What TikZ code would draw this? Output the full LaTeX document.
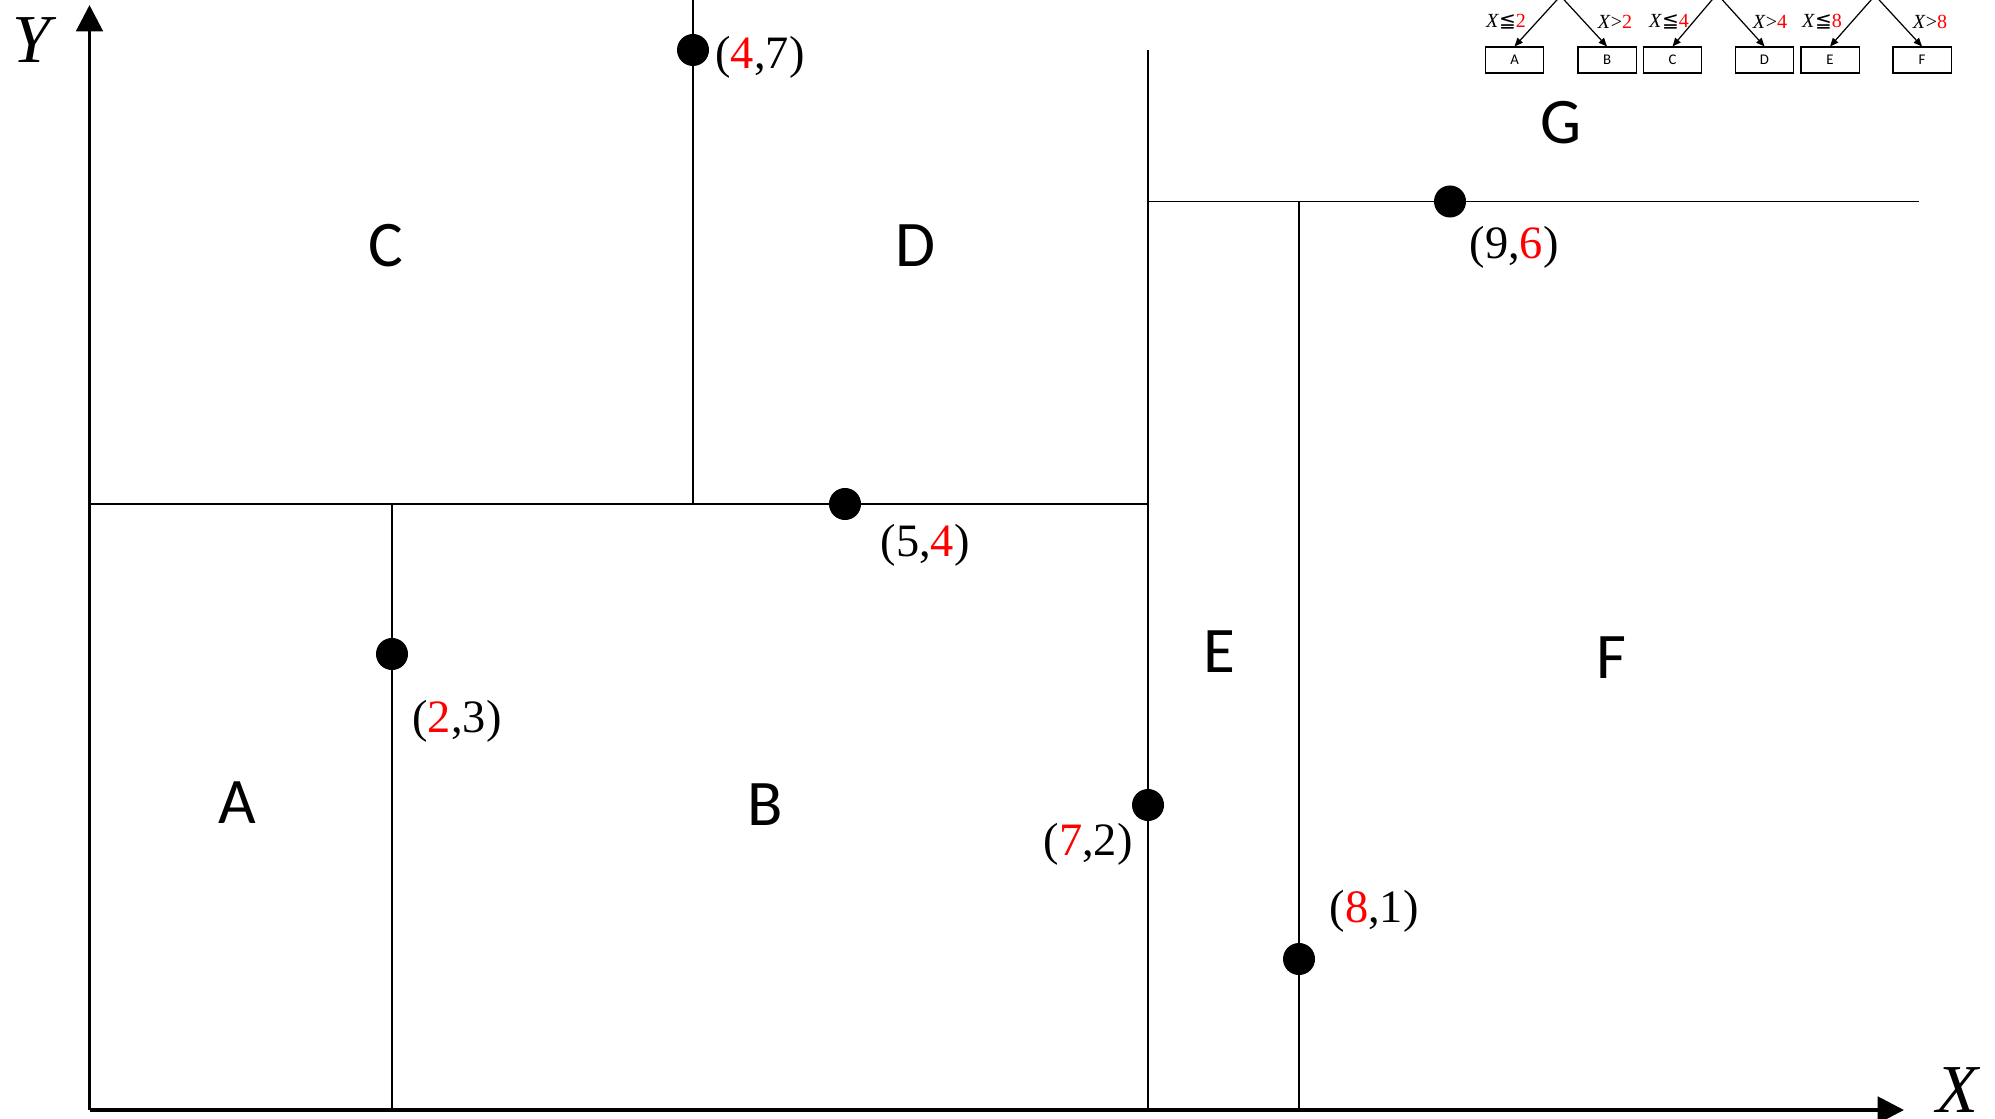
\documentclass[tikz,border=0pt]{standalone}
\usepackage{fontspec}
\setmainfont{Liberation Serif}
\newfontfamily\regionfont{Carlito}
\newfontfamily\symfont{DejaVu Sans}
\usetikzlibrary{arrows.meta,calc}
\definecolor{cutred}{RGB}{255,0,0}
\newcommand{\cutval}[1]{\textcolor{cutred}{#1}}

\begin{document}
\begin{tikzpicture}[x=0.01cm, y=-0.01cm,
  axis/.style={line width=1.1pt, -{Triangle[length=7.5pt,width=7.5pt]}},
  split/.style={line width=0.55pt},
  pt/.style={circle, fill=black, inner sep=0pt, minimum size=0.32cm},
  ptlabel/.style={font=\fontsize{13.2}{15}\selectfont, inner sep=0pt},
  region/.style={font=\regionfont\fontsize{18.5}{20}\selectfont, inner sep=0pt},
  axislabel/.style={font=\fontsize{19.5}{21}\selectfont\itshape, inner sep=0pt},
  leaf/.style={draw, line width=0.3pt, minimum width=0.58cm, minimum height=0.26cm, inner sep=0pt, font=\regionfont\fontsize{4.2}{5}\selectfont},
  branch/.style={line width=0.35pt, -{Triangle[length=2.4pt,width=2pt]}},
  rule/.style={font=\fontsize{5.7}{6}\selectfont, inner sep=0pt}]
  \useasboundingbox (0,0) rectangle (1995,1119);

  % axes
  \coordinate (O) at (89.5,1110);
  \draw[axis] (O) -- (89.5,5);
  \draw[axis] (O) -- (1904,1110);
  \node[axislabel] (ylab) at (32,40) {Y};
  \node[axislabel] (xlab) at (1957,1090) {X};

  % split points
  \node[pt] (p23) at (392,654) {};
  \node[pt] (p47) at (693,50) {};
  \node[pt] (p54) at (845,504) {};
  \node[pt] (p72) at (1148,805) {};
  \node[pt] (p81) at (1299,959) {};
  \node[pt] (p96) at (1450,201.5) {};

  % splitting lines
  \draw[split] (O |- p54) -- (p72 |- p54);
  \draw[split] (p23 |- O) -- (p23 |- p54);
  \draw[split] (p47 |- p54) -- ($(p47.center)+(0,-50)$);
  \draw[split] (p72 |- O) -- ($(p72 |- O)+(0,-1060)$);
  \draw[split] (p72 |- p96) -- ($(p96.center)+(469,0)$);
  \draw[split] (p81 |- O) -- (p81 |- p96);

  \node[ptlabel] (l23) at (457,721) {(\cutval{2},3)};
  \node[ptlabel] (l47) at (760,57) {(\cutval{4},7)};
  \node[ptlabel] (l54) at (925,545) {(5,\cutval{4})};
  \node[ptlabel] (l72) at (1088,844) {(\cutval{7},2)};
  \node[ptlabel] (l81) at (1374,911) {(\cutval{8},1)};
  \node[ptlabel] (l96) at (1514,247) {(9,\cutval{6})};

  % regions
  \node[region] (regA) at (237,803) {A};
  \node[region] (regB) at (765,805) {B};
  \node[region] (regC) at (386,246) {C};
  \node[region] (regD) at (915,246) {D};
  \node[region] (regE) at (1219,652) {E};
  \node[region] (regF) at (1611,658) {F};
  \node[region] (regG) at (1561,123) {G};

  % tree fragment
  \coordinate (par1) at (1560.5,-4);
  \coordinate (par2) at (1717,-6);
  \coordinate (par3) at (1875,-4.5);
  \node[leaf] (leafA) at (1514.5,60) {A};
  \node[leaf] (leafB) at (1607,60) {B};
  \node[leaf] (leafC) at (1672.5,60) {C};
  \node[leaf] (leafD) at (1764.5,60) {D};
  \node[leaf] (leafE) at (1830,60) {E};
  \node[leaf] (leafF) at (1922,60) {F};
  \draw[branch] (par1) -- (leafA.north);
  \draw[branch] (par1) -- (leafB.north);
  \draw[branch] (par2) -- (leafC.north);
  \draw[branch] (par2) -- (leafD.north);
  \draw[branch] (par3) -- (leafE.north);
  \draw[branch] (par3) -- (leafF.north);
  \node[rule] (ruleA) at (1506,22) {\textit{X}{\symfont ≦}\cutval{2}};
  \node[rule] (ruleB) at (1615,22) {\textit{X}>\cutval{2}};
  \node[rule] (ruleC) at (1669,22) {\textit{X}{\symfont ≦}\cutval{4}};
  \node[rule] (ruleD) at (1770,22) {\textit{X}>\cutval{4}};
  \node[rule] (ruleE) at (1822,22) {\textit{X}{\symfont ≦}\cutval{8}};
  \node[rule] (ruleF) at (1930,22) {\textit{X}>\cutval{8}};
\end{tikzpicture}
\end{document}
